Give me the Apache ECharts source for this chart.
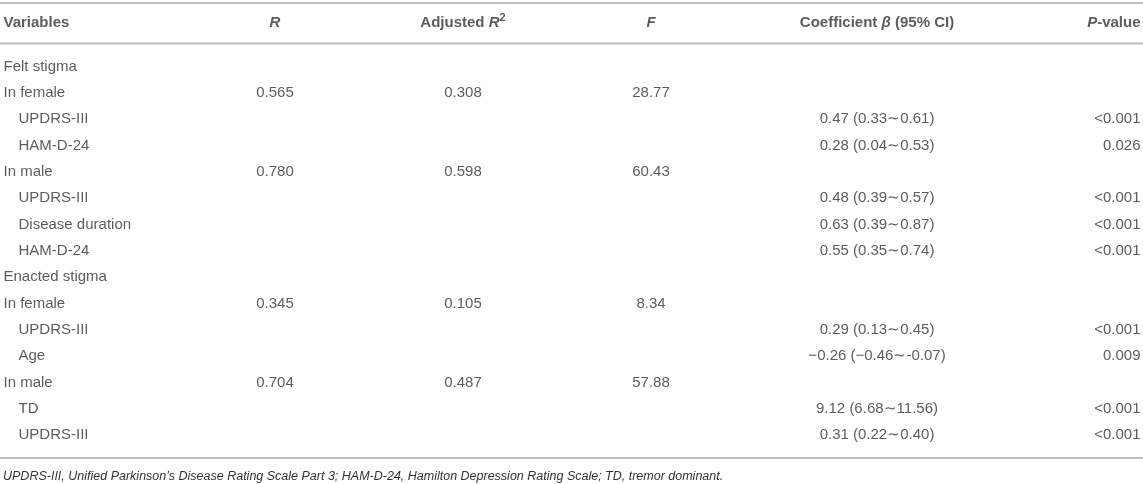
<!DOCTYPE html>
<html>
<head>
<meta charset="utf-8">
<script src="https://cdn.jsdelivr.net/npm/echarts@6/dist/echarts.min.js"></script>
<style>
html,body{margin:0;padding:0;background:#fff;}
#chart{width:1143px;height:484px;}
</style>
</head>
<body>
<div id="chart"></div>
<script>
// ---------- data ----------
const variables = ['Felt stigma','In female','UPDRS-III','HAM-D-24','In male','UPDRS-III','Disease duration','HAM-D-24',
                   'Enacted stigma','In female','UPDRS-III','Age','In male','TD','UPDRS-III'];
const isSubItem = [false,false,true,true,false,true,true,true,false,false,true,true,false,true,true];
const rValues   = [null,0.565,null,null,0.780,null,null,null,null,0.345,null,null,0.704,null,null];
const adjR2     = [null,0.308,null,null,0.598,null,null,null,null,0.105,null,null,0.487,null,null];
const fValues   = [null,28.77,null,null,60.43,null,null,null,null,8.34,null,null,57.88,null,null];
const beta      = [null,null,0.47,0.28,null,0.48,0.63,0.55,null,null,0.29,-0.26,null,9.12,0.31];
const ciLow     = [null,null,0.33,0.04,null,0.39,0.39,0.35,null,null,0.13,-0.46,null,6.68,0.22];
const ciHigh    = [null,null,0.61,0.53,null,0.57,0.87,0.74,null,null,0.45,-0.07,null,11.56,0.40];
const pValues   = ['','','<0.001','0.026','','<0.001','<0.001','<0.001','','','<0.001','0.009','','<0.001','<0.001'];
const headers   = ['Variables','R','Adjusted R2','F','Coefficient β (95% CI)','P-value'];
const footnote  = 'UPDRS-III, Unified Parkinson\u2019s Disease Rating Scale Part 3; HAM-D-24, Hamilton Depression Rating Scale; TD, tremor dominant.';

// ---------- layout ----------
const W = 1143;
const FONT = '"Liberation Sans", Arial, Helvetica, sans-serif';
const TXT = '#333';
const colX = {varMain: 3, varSub: 18, r: 275, adj: 463, f: 651, coef: 877, p: 1141};
const rowIds = variables.map((v, i) => String(i));

function fmtNeg(v, d) {
  const s = Math.abs(v).toFixed(d);
  return v < 0 ? '\u2212' + s : s;
}
function coefText(i) {
  if (beta[i] == null) return '';
  const hi = ciHigh[i] < 0 ? '-' + Math.abs(ciHigh[i]).toFixed(2) : ciHigh[i].toFixed(2);
  return fmtNeg(beta[i], 2) + ' (' + fmtNeg(ciLow[i], 2) + '\u223C' + hi + ')';
}

const baseLabel = {show: true, fontFamily: FONT, fontSize: 15, color: TXT};

function textSeries(name, points, pos) {
  return {
    name: name,
    type: 'scatter',
    symbolSize: 1,
    itemStyle: {color: 'rgba(0,0,0,0)'},
    silent: true,
    data: points,
    label: Object.assign({}, baseLabel, {
      position: pos,
      distance: 0,
      formatter: p => p.data.text
    })
  };
}

function col(values, x, fmt) {
  const out = [];
  values.forEach((v, i) => {
    const t = fmt(v, i);
    if (t !== '') out.push({value: [x, rowIds[i]], text: t});
  });
  return out;
}

const varPoints = variables.map((v, i) => ({value: [isSubItem[i] ? colX.varSub : colX.varMain, rowIds[i]], text: v}));

const richHead = {
  b:   {fontFamily: FONT, fontSize: 15, fontWeight: 'bold', color: TXT, lineHeight: 20},
  bi:  {fontFamily: FONT, fontSize: 15, fontWeight: 'bold', fontStyle: 'italic', color: TXT, lineHeight: 20},
  sup: {fontFamily: FONT, fontSize: 11, fontWeight: 'bold', color: TXT, verticalAlign: 'top', lineHeight: 12}
};
const headerPoints = [
  {value: [colX.varMain, 'h'], text: '{b|' + headers[0] + '}', pos: 'right'},
  {value: [colX.r, 'h'], text: '{bi|R}', pos: 'inside'},
  {value: [colX.adj, 'h'], text: '{b|Adjusted }{bi|R}{sup|2}', pos: 'inside'},
  {value: [colX.f, 'h'], text: '{bi|F}', pos: 'inside'},
  {value: [colX.coef, 'h'], text: '{b|Coefficient }{bi|\u03B2}{b| (95% CI)}', pos: 'inside'},
  {value: [colX.p, 'h'], text: '{bi|P}{b|-value}', pos: 'left'}
];

const headerSeries = ['right','inside','left'].map(pos => ({
  type: 'scatter', xAxisIndex: 1, yAxisIndex: 1, symbolSize: 1, silent: true,
  itemStyle: {color: 'rgba(0,0,0,0)'},
  data: headerPoints.filter(h => h.pos === pos),
  label: {show: true, position: pos, distance: 0, rich: richHead, formatter: p => p.data.text}
}));

const ruleStyle = {stroke: '#bdbdbd', lineWidth: 2};

const option = {
  animation: false,
  backgroundColor: '#fff',
  title: {
    text: footnote, left: 3, top: 470, padding: 0,
    textStyle: {fontFamily: FONT, fontSize: 12.5, fontStyle: 'italic', fontWeight: 'normal', color: TXT}
  },
  grid: [
    {left: 0, right: 0, top: 53.3, height: 395},
    {left: 0, right: 0, top: 9, height: 27}
  ],
  xAxis: [
    {type: 'value', min: 0, max: W, show: false, gridIndex: 0},
    {type: 'value', min: 0, max: W, show: false, gridIndex: 1}
  ],
  yAxis: [
    {type: 'category', data: rowIds, inverse: true, show: false, gridIndex: 0},
    {type: 'category', data: ['h'], show: false, gridIndex: 1}
  ],
  graphic: [
    {type: 'line', shape: {x1: 0, y1: 3, x2: W, y2: 3}, style: ruleStyle, silent: true},
    {type: 'line', shape: {x1: 0, y1: 43.5, x2: W, y2: 43.5}, style: ruleStyle, silent: true},
    {type: 'line', shape: {x1: 0, y1: 458, x2: W, y2: 458}, style: ruleStyle, silent: true}
  ],
  series: [
    textSeries('Variables', varPoints, 'right'),
    textSeries('R', col(rValues, colX.r, v => v == null ? '' : v.toFixed(3)), 'inside'),
    textSeries('Adjusted R2', col(adjR2, colX.adj, v => v == null ? '' : v.toFixed(3)), 'inside'),
    textSeries('F', col(fValues, colX.f, v => v == null ? '' : v.toFixed(2)), 'inside'),
    textSeries('Coefficient', col(beta, colX.coef, (v, i) => coefText(i)), 'inside'),
    textSeries('P-value', col(pValues, colX.p, v => v), 'left')
  ].concat(headerSeries)
};

const chart = echarts.init(document.getElementById('chart'), null, {renderer: 'canvas'});
chart.setOption(option);
</script>
</body>
</html>
